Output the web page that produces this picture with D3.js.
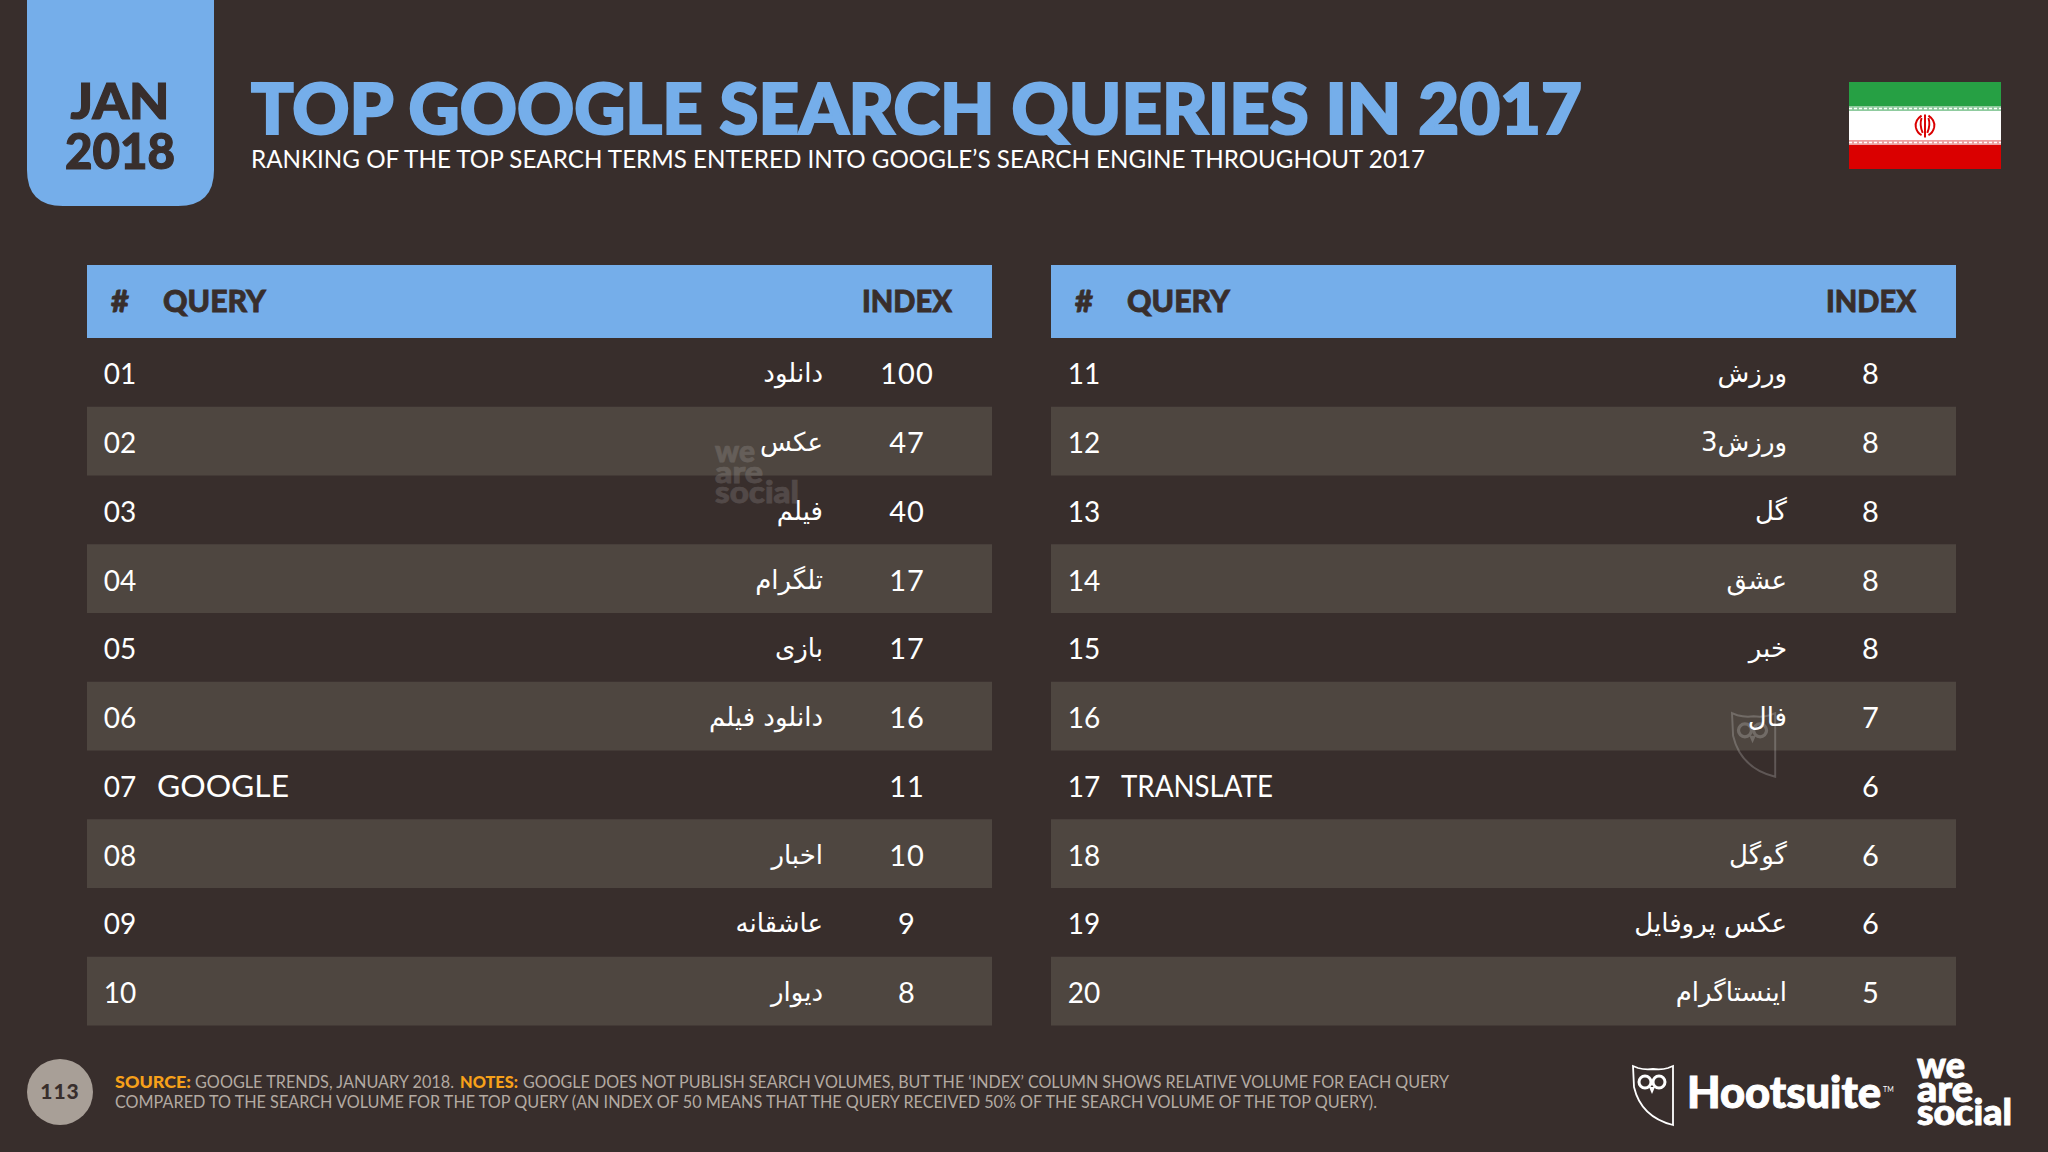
<!DOCTYPE html>
<html>
<head>
<meta charset="utf-8">
<title>Top Google Search Queries in 2017</title>
<script src="https://cdn.jsdelivr.net/npm/d3@7"></script>
<style>
  html, body { margin: 0; padding: 0; background: #382e2c; }
  svg { display: block; }
  text { font-family: Lato, sans-serif; }
</style>
</head>
<body>
<svg id="chart"></svg>
<script>
const ranks = ['01','02','03','04','05','06','07','08','09','10','11','12','13','14','15','16','17','18','19','20'];
const queries = ['دانلود','عکس','فیلم','تلگرام','بازی','دانلود فیلم','GOOGLE','اخبار','عاشقانه','دیوار',
  'ورزش','ورزش3','گل','عشق','خبر','فال','TRANSLATE','گوگل','عکس پروفایل','اینستاگرام'];
const indexValues = [100,47,40,17,17,16,11,10,9,8,8,8,8,8,8,7,6,6,6,5];
const tableNames = ['left','right'];
const columnHeaders = ['#','QUERY','INDEX'];

const width = 2048;
const height = 1152;
const bg = '#382e2c';
const blue = '#75aeea';
const band = '#4e4640';
const rowH = 68.75;
const latinLength = { GOOGLE: 132, TRANSLATE: 152 };
const isLatin = s => /[A-Z]/.test(s);

const svg = d3.select('#chart').attr('width', width).attr('height', height);
svg.append('rect').attr('width', width).attr('height', height).attr('fill', bg);

// tables
const tableX = d3.scaleBand().domain(tableNames).range([87, 1956]).paddingInner(59 / 964);
const rowY = d3.scaleBand().domain(d3.range(10)).range([338, 338 + rowH * 10]);
const tw = tableX.bandwidth();

tableNames.forEach((name, t) => {
  const g = svg.append('g').attr('transform', `translate(${tableX(name)},0)`);
  const rows = d3.range(10).map(i => ({
    i,
    rank: ranks[i + t * 10],
    query: queries[i + t * 10],
    value: indexValues[i + t * 10]
  }));

  g.append('rect').attr('y', 265).attr('width', tw).attr('height', 73).attr('fill', blue);
  g.append('text').text(columnHeaders[0]).attr('x', 33).attr('y', 312)
    .attr('text-anchor', 'middle').attr('font-size', 31).attr('font-weight', 900).attr('fill', bg)
    .attr('stroke', bg).attr('stroke-width', 0.8);
  g.append('text').text(columnHeaders[1]).attr('x', 76).attr('y', 312)
    .attr('font-size', 31).attr('font-weight', 900).attr('fill', bg)
    .attr('stroke', bg).attr('stroke-width', 0.8)
    .attr('textLength', 103).attr('lengthAdjust', 'spacingAndGlyphs');
  g.append('text').text(columnHeaders[2]).attr('x', 775).attr('y', 312)
    .attr('font-size', 31).attr('font-weight', 900).attr('fill', bg)
    .attr('stroke', bg).attr('stroke-width', 0.8)
    .attr('textLength', 90).attr('lengthAdjust', 'spacingAndGlyphs');

  g.selectAll('rect.band')
    .data(rows.filter(d => d.i % 2 == 1))
    .join('rect')
    .attr('class', 'band')
    .attr('y', d => rowY(d.i))
    .attr('width', tw)
    .attr('height', rowY.bandwidth())
    .attr('fill', band);

  const row = g.selectAll('g.row')
    .data(rows)
    .join('g')
    .attr('class', 'row')
    .attr('transform', d => `translate(0,${rowY(d.i) + rowY.bandwidth() / 2})`);

  row.append('text').text(d => d.rank)
    .attr('x', 33).attr('y', 12).attr('text-anchor', 'middle')
    .attr('font-size', 28).attr('fill', '#fff');

  // latin queries sit on the left, farsi ones are right aligned against the index column
  row.append('text').text(d => d.query)
    .attr('x', d => isLatin(d.query) ? 70 : 736)
    .attr('y', d => isLatin(d.query) ? 12 : 10)
    .attr('text-anchor', d => isLatin(d.query) ? 'start' : 'end')
    .style('font-family', d => isLatin(d.query) ? 'Lato' : "'DejaVu Sans'")
    .attr('font-size', d => isLatin(d.query) ? 30 : 26)
    .attr('textLength', d => latinLength[d.query] || null)
    .attr('lengthAdjust', 'spacingAndGlyphs')
    .attr('fill', '#fff');

  row.append('text').text(d => d.value)
    .attr('x', 820).attr('y', 12).attr('text-anchor', 'middle')
    .attr('font-size', 29).attr('letter-spacing', 1).attr('fill', '#fff');
});

// date tab
svg.append('path')
  .attr('d', 'M27,0 H214 V170 Q214,206 178,206 H63 Q27,206 27,170 Z')
  .attr('fill', blue);
svg.append('text').text('JAN').attr('x', 120).attr('y', 119).attr('text-anchor', 'middle')
  .attr('font-size', 50).attr('font-weight', 900).attr('fill', bg)
  .attr('stroke', bg).attr('stroke-width', 1.2)
  .attr('textLength', 99).attr('lengthAdjust', 'spacingAndGlyphs');
svg.append('text').text('2018').attr('x', 120).attr('y', 169).attr('text-anchor', 'middle')
  .attr('font-size', 50).attr('font-weight', 900).attr('fill', bg)
  .attr('stroke', bg).attr('stroke-width', 1.2)
  .attr('textLength', 110).attr('lengthAdjust', 'spacingAndGlyphs');

// title
svg.append('text').text('TOP GOOGLE SEARCH QUERIES IN 2017')
  .attr('x', 251).attr('y', 133.5)
  .attr('font-size', 71).attr('font-weight', 900).attr('fill', blue)
  .attr('stroke', blue).attr('stroke-width', 2.2)
  .attr('textLength', 1331).attr('lengthAdjust', 'spacingAndGlyphs');
svg.append('text').text('RANKING OF THE TOP SEARCH TERMS ENTERED INTO GOOGLE’S SEARCH ENGINE THROUGHOUT 2017')
  .attr('x', 251).attr('y', 168)
  .attr('font-size', 25).attr('fill', '#fff')
  .attr('textLength', 1174).attr('lengthAdjust', 'spacingAndGlyphs');

// flag
const flag = svg.append('g').attr('transform', 'translate(1849,82)');
flag.append('rect').attr('width', 152).attr('height', 25).attr('fill', '#26a044');
flag.append('rect').attr('y', 25).attr('width', 152).attr('height', 37).attr('fill', '#fff');
flag.append('rect').attr('y', 62).attr('width', 152).attr('height', 25).attr('fill', '#da0000');
flag.append('rect').attr('y', 24).attr('width', 152).attr('height', 5).attr('fill', '#8fcb9f');
flag.append('rect').attr('y', 58).attr('width', 152).attr('height', 5).attr('fill', '#eda0a0');
flag.append('path').attr('d', 'M0,26.5 H152 M0,60.5 H152')
  .attr('stroke', '#fff').attr('stroke-width', 1.4).attr('stroke-dasharray', '3 2');
flag.append('g').attr('transform', 'translate(76,44) scale(1.15)')
  .append('path')
  .attr('d', 'M-3,-9 Q-9,-5 -8,1 Q-7,6 -3,8 M3,-9 Q9,-5 8,1 Q7,6 3,8 M-3,-7 Q-5,-1 -2,6 M3,-7 Q5,-1 2,6 M0,-10 V10')
  .attr('fill', 'none').attr('stroke', '#da0000').attr('stroke-width', 1.7);

// owl shield, drawn in a 40x60 box
function drawOwl(parent, x, y, scale, color, opacity) {
  const g = parent.append('g')
    .attr('transform', `translate(${x},${y}) scale(${scale})`)
    .attr('opacity', opacity);
  g.append('path')
    .attr('d', 'M0,1 L5,3 Q12,5 20,4 Q29,5 35,3 L40,1 V60 Q8,52 1,22 Z')
    .attr('fill', 'none').attr('stroke', color).attr('stroke-width', 1.8);
  g.append('circle').attr('cx', 12).attr('cy', 17).attr('r', 6)
    .attr('fill', 'none').attr('stroke', color).attr('stroke-width', 3);
  g.append('circle').attr('cx', 26).attr('cy', 17).attr('r', 6)
    .attr('fill', 'none').attr('stroke', color).attr('stroke-width', 3);
  g.append('path').attr('d', 'M16,22 L19,29 L22,22 Z').attr('fill', color);
}

function drawWeAreSocial(parent, x, ys, size, stretch, color, opacity) {
  const g = parent.append('g').attr('opacity', opacity);
  ['we', 'are', 'social'].forEach((word, i) => {
    g.append('text').text(word)
      .attr('x', x).attr('y', ys[i])
      .attr('font-size', size).attr('font-weight', 900).attr('fill', color)
      .attr('stroke', color).attr('stroke-width', size * 0.025)
      .attr('textLength', stretch[i]).attr('lengthAdjust', 'spacingAndGlyphs');
  });
}

// faint watermarks over the table
drawWeAreSocial(svg, 715, [462, 483, 503], 30, [40, 48, 84], '#fff', 0.13);
drawOwl(svg, 1732, 712, 1.08, '#fff', 0.2);

// footer
svg.append('circle').attr('cx', 60).attr('cy', 1092).attr('r', 33).attr('fill', '#a89f97');
svg.append('text').text('113').attr('x', 60).attr('y', 1099).attr('text-anchor', 'middle')
  .attr('font-size', 21).attr('font-weight', 900).attr('letter-spacing', 1).attr('fill', bg);

const footerColor = '#b3aaa2';
const orange = '#f7a11a';
const footerBits = [
  { s: 'SOURCE:', x: 115, len: 76, bold: true },
  { s: 'GOOGLE TRENDS, JANUARY 2018.', x: 195, len: 259, bold: false },
  { s: 'NOTES:', x: 460, len: 58, bold: true },
  { s: 'GOOGLE DOES NOT PUBLISH SEARCH VOLUMES, BUT THE ‘INDEX’ COLUMN SHOWS RELATIVE VOLUME FOR EACH QUERY', x: 523, len: 926, bold: false }
];
svg.selectAll('text.note')
  .data(footerBits)
  .join('text')
  .attr('class', 'note')
  .text(d => d.s)
  .attr('x', d => d.x).attr('y', 1088)
  .attr('font-size', 16.5)
  .attr('font-weight', d => d.bold ? 900 : 400)
  .attr('fill', d => d.bold ? orange : footerColor)
  .attr('textLength', d => d.len).attr('lengthAdjust', 'spacingAndGlyphs');
svg.append('text')
  .text('COMPARED TO THE SEARCH VOLUME FOR THE TOP QUERY (AN INDEX OF 50 MEANS THAT THE QUERY RECEIVED 50% OF THE SEARCH VOLUME OF THE TOP QUERY).')
  .attr('x', 115).attr('y', 1108)
  .attr('font-size', 16.5).attr('fill', footerColor)
  .attr('textLength', 1262).attr('lengthAdjust', 'spacingAndGlyphs');

drawOwl(svg, 1633, 1065, 1, '#fff', 1);
svg.append('text').text('Hootsuite').attr('x', 1687).attr('y', 1108)
  .attr('font-size', 44).attr('font-weight', 900).attr('fill', '#fff')
  .attr('stroke', '#fff').attr('stroke-width', 1)
  .attr('textLength', 194).attr('lengthAdjust', 'spacingAndGlyphs');
svg.append('text').text('TM').attr('x', 1883).attr('y', 1092)
  .attr('font-size', 7).attr('fill', '#fff');
drawWeAreSocial(svg, 1917, [1078, 1102, 1125], 36, [48, 56, 95], '#fff', 1);
</script>
</body>
</html>
